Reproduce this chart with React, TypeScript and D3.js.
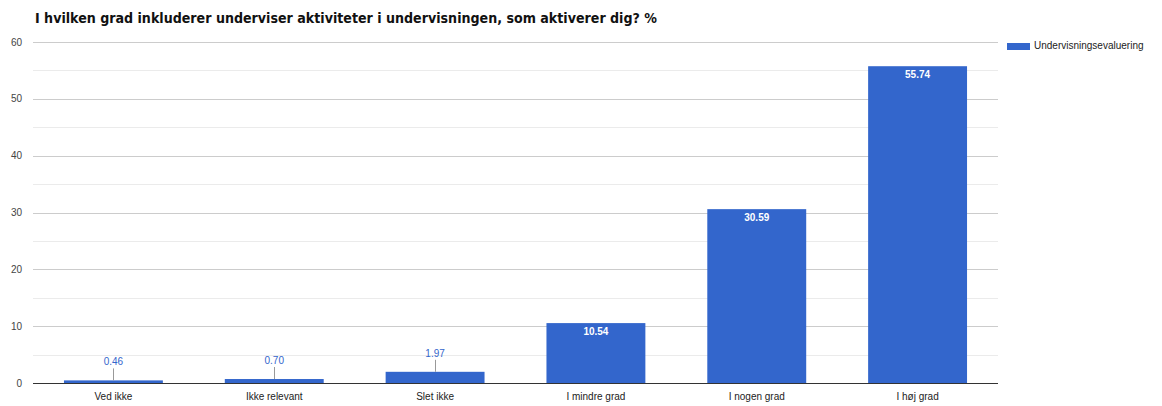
import React from "react";
import * as d3 from "d3";

const categories = ["Ved ikke", "Ikke relevant", "Slet ikke", "I mindre grad", "I nogen grad", "I høj grad"];
const values = [0.46, 0.7, 1.97, 10.54, 30.59, 55.74];
const yTicks = [0, 10, 20, 30, 40, 50, 60];
const minorTicks = [5, 15, 25, 35, 45, 55];
const seriesName = "Undervisningsevaluering";
const title = "I hvilken grad inkluderer underviser aktiviteter i undervisningen, som aktiverer dig? %";

export default function App() {
  const W = 1162, H = 406;
  const left = 33, right = 998, top = 42, bottom = 383;
  const x = d3.scaleBand<string>().domain(categories).range([left, right]).paddingInner(0.385).paddingOuter(0.1925);
  const y = d3.scaleLinear().domain([0, 60]).range([bottom, top]);
  const font = "Arial, 'Liberation Sans', sans-serif";
  const blue = "#3366cc";
  return (
    <svg width={W} height={H} style={{ position: "absolute", left: 0, top: 0, fontFamily: font }}>
      <rect width={W} height={H} fill="#fff" />
      <text x={35} y={23} fontSize={14.5} fontWeight="bold" fill="#111"
        style={{ fontFamily: "'DejaVu Sans Condensed', 'DejaVu Sans', sans-serif" }}
        textLength={622} lengthAdjust="spacingAndGlyphs">{title}</text>
      {minorTicks.map((t) => (
        <line key={"m" + t} x1={left} x2={right} y1={Math.round(y(t)) + 0.5} y2={Math.round(y(t)) + 0.5} stroke="#ebebeb" />
      ))}
      {yTicks.map((t) => (
        <g key={t}>
          {t !== 0 && <line x1={left} x2={right} y1={Math.round(y(t)) + 0.5} y2={Math.round(y(t)) + 0.5} stroke="#cccccc" />}
          <text x={22} y={y(t) + 3.5} fontSize={10} textAnchor="end" fill="#444">{t}</text>
        </g>
      ))}
      {categories.map((c, i) => {
        const v = values[i];
        const bx = x(c)!;
        const bw = x.bandwidth();
        const cx = bx + bw / 2;
        const yt = y(v);
        const inside = bottom - yt > 20;
        return (
          <g key={c}>
            <rect x={bx} y={yt} width={bw} height={bottom - yt} fill={blue} />
            {inside ? (
              <text x={cx} y={yt + 12} fontSize={10} fontWeight="bold" fill="#fff" textAnchor="middle">{v.toFixed(2)}</text>
            ) : (
              <g>
                <line x1={Math.round(cx) + 0.5} x2={Math.round(cx) + 0.5} y1={yt} y2={yt - 12} stroke="#999" />
                <text x={cx} y={yt - 15} fontSize={10} fill={blue} textAnchor="middle">{v.toFixed(2)}</text>
              </g>
            )}
            <text x={cx} y={400} fontSize={10} fill="#222" textAnchor="middle">{c}</text>
          </g>
        );
      })}
      <line x1={left} x2={right} y1={bottom + 0.5} y2={bottom + 0.5} stroke="#333" />
      <rect x={1007} y={43} width={23} height={7} fill={blue} />
      <text x={1034} y={49} fontSize={10} fill="#222">{seriesName}</text>
    </svg>
  );
}
